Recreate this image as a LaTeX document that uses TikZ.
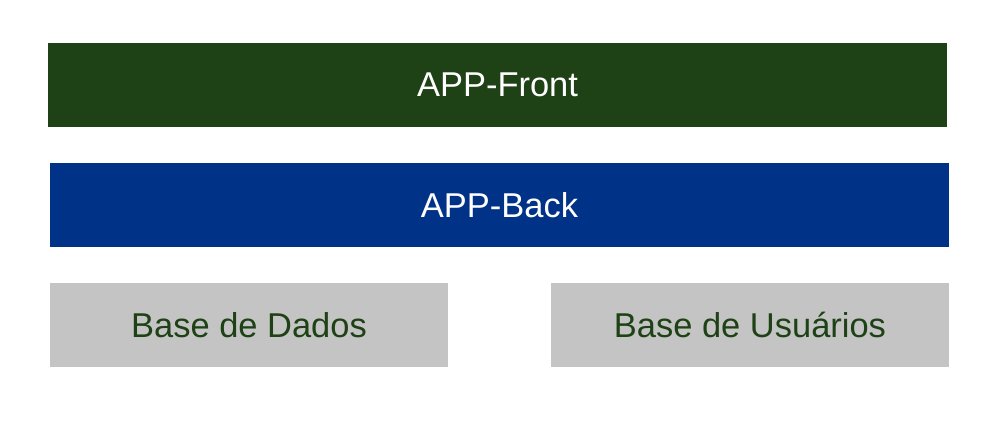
\documentclass[tikz,border=0pt]{standalone}
\usepackage{fontspec}
\setmainfont{Liberation Sans}
\definecolor{frontgreen}{HTML}{1E4116}
\definecolor{backblue}{HTML}{003387}
\definecolor{dbgray}{HTML}{C4C4C4}
\begin{document}
\begin{tikzpicture}[x=0.01cm,y=-0.01cm,
  layer/.style={inner sep=0pt, outer sep=0pt, minimum height=0.84cm,
    font=\fontsize{9.8}{12}\selectfont},
  widebox/.style={layer, minimum width=8.99cm},
  halfbox/.style={layer, minimum width=3.98cm},
  frontbox/.style={widebox, fill=frontgreen, text=white},
  backbox/.style={widebox, fill=backblue, text=white},
  storebox/.style={halfbox, fill=dbgray, text=frontgreen}]
  \useasboundingbox (0,0) rectangle (1000,425);
  % application layers
  \node[frontbox] (front) at (497.5,85) {APP-Front};
  \node[backbox] (back) at (499.5,205) {APP-Back};
  % data stores
  \node[storebox] (dados) at (249,325) {Base de Dados};
  \node[storebox] (usuarios) at (750,325) {Base de Usuários};
\end{tikzpicture}
\end{document}
